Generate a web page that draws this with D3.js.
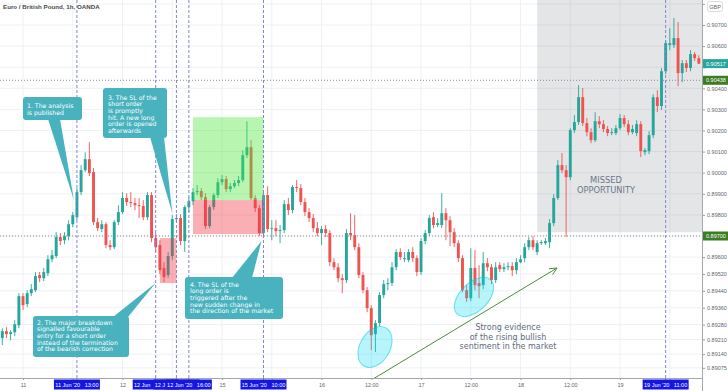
<!DOCTYPE html>
<html><head><meta charset="utf-8">
<script src="https://cdn.jsdelivr.net/npm/d3@7"></script>
<style>html,body{margin:0;padding:0;background:#fff;}svg{display:block;}</style>
</head><body><svg id="c" width="728" height="391"></svg>
<script>
// ---- DATA (EUR/GBP 1h, OANDA) ----
const opens=[
0.89216,0.89249,0.89235,0.89244,0.89277,0.89415,0.89377,0.89429,0.89443,0.89515,
0.89500,0.89524,0.89590,0.89605,0.89695,0.89680,0.89699,0.89756,0.89789,0.89908,
0.90012,0.90064,0.90003,0.89766,0.89733,0.89756,0.89657,0.89647,0.89766,0.89813,
0.89880,0.89861,0.89856,0.89846,0.89842,0.89789,0.89894,0.89690,0.89657,0.89548,
0.89515,0.89605,0.89780,0.89785,0.89676,0.89837,0.89865,0.89908,0.89913,0.89884,
0.89747,0.89837,0.89894,0.89955,0.89970,0.89922,0.89936,0.89951,0.89965,0.90083,
0.90121,0.89880,0.89832,0.89714,0.89894,0.89733,0.89737,0.89723,0.89728,0.89851,
0.89823,0.89932,0.89927,0.89861,0.89813,0.89785,0.89737,0.89714,0.89733,0.89714,
0.89576,0.89552,0.89500,0.89491,0.89714,0.89704,0.89647,0.89515,0.89443,0.89358,
0.89235,0.89287,0.89420,0.89472,0.89477,0.89552,0.89624,0.89590,0.89586,0.89624,
0.89595,0.89529,0.89676,0.89714,0.89789,0.89752,0.89752,0.89808,0.89775,0.89718,
0.89666,0.89595,0.89443,0.89405,0.89548,0.89477,0.89467,0.89571,0.89552,0.89491,
0.89562,0.89543,0.89552,0.89557,0.89538,0.89576,0.89595,0.89647,0.89680,0.89624,
0.89666,0.89666,0.89671,0.89761,0.89880,0.90036,0.90012,0.89979,0.90202,0.90240,
0.90358,0.90235,0.90192,0.90154,0.90244,0.90230,0.90207,0.90188,0.90188,0.90211,
0.90259,0.90230,0.90192,0.90188,0.90230,0.90097,0.90102,0.90178,0.90358,0.90316,
0.90481,0.90605,0.90605,0.90638,0.90472,0.90519,0.90496,0.90562,0.90543];
const highs=[
0.89263,0.89268,0.89254,0.89301,0.89429,0.89429,0.89443,0.89472,0.89529,0.89529,
0.89548,0.89609,0.89633,0.89718,0.89714,0.89718,0.89775,0.89813,0.89927,0.90036,
0.90097,0.90145,0.90022,0.89785,0.89775,0.89766,0.89680,0.89775,0.89846,0.89908,
0.89903,0.89908,0.89880,0.89880,0.89870,0.89908,0.89908,0.89714,0.89680,0.89576,
0.89624,0.89799,0.89804,0.89804,0.89846,0.89884,0.89927,0.89941,0.89927,0.89903,
0.89846,0.89903,0.89974,0.89989,0.89984,0.89951,0.89965,0.89984,0.90107,0.90244,
0.90154,0.89894,0.89846,0.89917,0.89936,0.89775,0.89775,0.89752,0.89870,0.89880,
0.89941,0.89965,0.89946,0.89880,0.89832,0.89804,0.89766,0.89747,0.89752,0.89728,
0.89595,0.89571,0.89519,0.89733,0.89808,0.89799,0.89666,0.89529,0.89458,0.89372,
0.89301,0.89434,0.89491,0.89500,0.89576,0.89638,0.89642,0.89624,0.89638,0.89647,
0.89609,0.89690,0.89728,0.89799,0.89813,0.89785,0.89903,0.89832,0.89794,0.89737,
0.89680,0.89609,0.89467,0.89642,0.89633,0.89562,0.89624,0.89595,0.89567,0.89576,
0.89576,0.89571,0.89576,0.89576,0.89595,0.89609,0.89666,0.89695,0.89699,0.89680,
0.89680,0.89690,0.89780,0.89898,0.90060,0.90093,0.90036,0.90211,0.90273,0.90415,
0.90401,0.90259,0.90211,0.90287,0.90268,0.90249,0.90221,0.90211,0.90226,0.90278,
0.90273,0.90249,0.90226,0.90249,0.90244,0.90117,0.90197,0.90372,0.90391,0.90496,
0.90628,0.90685,0.90733,0.90714,0.90534,0.90534,0.90581,0.90572,0.90557];
const lows=[
0.89183,0.89216,0.89206,0.89225,0.89263,0.89349,0.89363,0.89415,0.89434,0.89481,
0.89486,0.89510,0.89576,0.89595,0.89657,0.89661,0.89680,0.89742,0.89775,0.89894,
0.90003,0.89984,0.89752,0.89723,0.89718,0.89642,0.89633,0.89638,0.89752,0.89804,
0.89842,0.89837,0.89823,0.89785,0.89775,0.89775,0.89671,0.89624,0.89519,0.89481,
0.89500,0.89586,0.89766,0.89657,0.89624,0.89813,0.89846,0.89894,0.89870,0.89733,
0.89737,0.89823,0.89880,0.89941,0.89908,0.89908,0.89927,0.89936,0.89955,0.90069,
0.89870,0.89813,0.89699,0.89690,0.89718,0.89680,0.89699,0.89666,0.89714,0.89799,
0.89808,0.89908,0.89846,0.89794,0.89766,0.89718,0.89699,0.89657,0.89695,0.89557,
0.89538,0.89481,0.89429,0.89477,0.89680,0.89633,0.89500,0.89429,0.89339,0.89159,
0.89150,0.89273,0.89405,0.89443,0.89462,0.89538,0.89586,0.89576,0.89576,0.89576,
0.89510,0.89515,0.89661,0.89699,0.89737,0.89742,0.89737,0.89680,0.89652,0.89647,
0.89576,0.89434,0.89387,0.89391,0.89443,0.89405,0.89448,0.89533,0.89472,0.89477,
0.89529,0.89529,0.89538,0.89510,0.89519,0.89571,0.89576,0.89633,0.89633,0.89609,
0.89657,0.89657,0.89642,0.89747,0.89870,0.89998,0.89695,0.89965,0.90188,0.90226,
0.90221,0.90173,0.90140,0.90145,0.90211,0.90192,0.90173,0.90178,0.90178,0.90202,
0.90216,0.90178,0.90183,0.90173,0.90074,0.90083,0.90088,0.90164,0.90287,0.90297,
0.90467,0.90581,0.90591,0.90410,0.90429,0.90477,0.90481,0.90529,0.90515];
const closes=[
0.89249,0.89235,0.89244,0.89282,0.89415,0.89372,0.89429,0.89448,0.89510,0.89500,
0.89529,0.89590,0.89609,0.89695,0.89676,0.89699,0.89756,0.89799,0.89908,0.90012,
0.90064,0.89998,0.89766,0.89737,0.89756,0.89657,0.89647,0.89766,0.89813,0.89880,
0.89861,0.89856,0.89846,0.89842,0.89789,0.89894,0.89690,0.89647,0.89538,0.89505,
0.89605,0.89780,0.89785,0.89676,0.89837,0.89865,0.89908,0.89913,0.89884,0.89747,
0.89837,0.89894,0.89955,0.89970,0.89922,0.89936,0.89951,0.89965,0.90083,0.90121,
0.89880,0.89832,0.89714,0.89894,0.89733,0.89737,0.89723,0.89728,0.89851,0.89823,
0.89932,0.89927,0.89861,0.89813,0.89785,0.89737,0.89714,0.89733,0.89714,0.89576,
0.89552,0.89500,0.89491,0.89714,0.89704,0.89647,0.89515,0.89443,0.89358,0.89230,
0.89287,0.89420,0.89472,0.89477,0.89552,0.89624,0.89600,0.89595,0.89624,0.89595,
0.89529,0.89676,0.89714,0.89785,0.89752,0.89761,0.89808,0.89775,0.89718,0.89666,
0.89595,0.89443,0.89405,0.89548,0.89467,0.89462,0.89571,0.89552,0.89491,0.89552,
0.89543,0.89552,0.89557,0.89538,0.89576,0.89590,0.89647,0.89680,0.89647,0.89666,
0.89671,0.89676,0.89761,0.89880,0.90036,0.90012,0.89979,0.90202,0.90240,0.90358,
0.90235,0.90192,0.90154,0.90244,0.90230,0.90207,0.90188,0.90192,0.90211,0.90259,
0.90230,0.90192,0.90207,0.90230,0.90102,0.90107,0.90178,0.90358,0.90316,0.90481,
0.90614,0.90614,0.90638,0.90472,0.90519,0.90496,0.90562,0.90543,0.90517];

const firstBar = Date.UTC(2020,5,10,19);          // 10 Jun 2020 19:00
const weekendClose = Date.UTC(2020,5,12,21);      // Fri close
const weekendOpen  = Date.UTC(2020,5,14,21);      // Sun open
const priceTicks=[0.908,0.907,0.906,0.905,0.904,0.903,0.902,0.901,0.900,0.899,0.898,0.897,0.896,0.8952,0.8944,0.8936,0.8928,0.8921,0.8914,0.89075];
const eventTimes=[Date.UTC(2020,5,11,13),Date.UTC(2020,5,12,8),Date.UTC(2020,5,12,13),Date.UTC(2020,5,12,16),Date.UTC(2020,5,15,10),Date.UTC(2020,5,19,11)];
const lastPrice=0.90517, levelA=0.90438, levelB=0.89700;
const longTP=0.90263, longEntry=0.89870, longSL=0.89709;
const shortTop=0.89690, shortBottom=0.89477, missedBottom=0.89718;

// ---- SETUP ----
const HOUR=3600e3;
const times=opens.map((_,i)=>{let t=firstBar+i*HOUR; if(t>=weekendClose) t+=weekendOpen-weekendClose; return t;});
const idxOf=t=>times.indexOf(t);
const PR=702, PB=378;
const svg=d3.select("#c");
const x=d3.scaleLinear().domain([-0.555,168.77]).range([0,PR]);
const y=d3.scaleLinear().domain([0.89027,0.908185]).range([PB,0]);
const AX="Liberation Sans, Arial, sans-serif";
const CF="DejaVu Sans, Verdana, sans-serif";
const defs=svg.append("defs");
defs.append("clipPath").attr("id","plot").append("rect").attr("width",PR).attr("height",PB);

// grid
const xTickIdx=times.map((t,i)=>({t,i})).filter(d=>{const h=new Date(d.t).getUTCHours();return h===0||h===12;}).map(d=>d.i);
const grid=svg.append("g");
grid.selectAll("line.v").data(xTickIdx).join("line").attr("x1",d=>x(d)).attr("x2",d=>x(d)).attr("y1",0).attr("y2",PB).attr("stroke","#eef0f4").attr("stroke-width",1);
grid.selectAll("line.h").data(priceTicks).join("line").attr("x1",0).attr("x2",PR).attr("y1",d=>y(d)).attr("y2",d=>y(d)).attr("stroke","#eef0f4").attr("stroke-width",1);

// missed opportunity zone
svg.append("rect").attr("x",x(129)).attr("y",y(y.domain()[1])).attr("width",PR-x(129)).attr("height",y(missedBottom)-y(y.domain()[1])).attr("fill","rgba(120,123,134,0.2)");

// candles
const cg=svg.append("g").attr("clip-path","url(#plot)");
const bars=opens.map((o,i)=>({i,o,h:highs[i],l:lows[i],c:closes[i]}));
const col=d=>d.c>=d.o?"#26a69a":"#ef5350";
cg.selectAll("line.w").data(bars).join("line").attr("x1",d=>x(d.i)).attr("x2",d=>x(d.i)).attr("y1",d=>y(d.h)).attr("y2",d=>y(d.l)).attr("stroke",col).attr("stroke-width",0.9);
const bw=2.9;
cg.selectAll("rect.b").data(bars).join("rect").attr("x",d=>x(d.i)-bw/2).attr("y",d=>y(Math.max(d.o,d.c))).attr("width",bw).attr("height",d=>Math.max(0.9,y(Math.min(d.o,d.c))-y(Math.max(d.o,d.c)))).attr("fill",col);

// position boxes
svg.append("rect").attr("x",x(46)).attr("y",y(longTP)).attr("width",x(63)-x(46)).attr("height",y(longEntry)-y(longTP)).attr("fill","rgba(76,230,60,0.4)");
svg.append("rect").attr("x",x(46)).attr("y",y(longEntry)).attr("width",x(63)-x(46)).attr("height",y(longSL)-y(longEntry)).attr("fill","rgba(242,54,69,0.4)");
svg.append("rect").attr("x",x(38)).attr("y",y(shortTop)).attr("width",x(42)-x(38)).attr("height",y(shortBottom)-y(shortTop)).attr("fill","rgba(242,54,69,0.4)");

// horizontal dotted levels
[levelA,levelB].forEach(p=>svg.append("line").attr("x1",0).attr("x2",PR).attr("y1",y(p)).attr("y2",y(p)).attr("stroke","#8a8d96").attr("stroke-width",1).attr("stroke-dasharray","1,2"));

// event vertical lines
const evIdx=eventTimes.map(idxOf);
svg.selectAll("line.ev").data(evIdx).join("line").attr("x1",d=>x(d)).attr("x2",d=>x(d)).attr("y1",0).attr("y2",PB+1).attr("stroke","#7f82de").attr("stroke-width",1).attr("stroke-dasharray","3,2");

// ellipses
[[375,347,22,15,-60],[474,297,24,14,-45]].forEach(e=>{
  svg.append("ellipse").attr("cx",0).attr("cy",0).attr("rx",e[2]).attr("ry",e[3]).attr("transform",`translate(${e[0]},${e[1]}) rotate(${e[4]})`).attr("fill","rgba(0,220,240,0.28)").attr("stroke","rgba(0,200,230,0.55)").attr("stroke-width",1);
});

// green arrow
(function(){const x1=373,y1=379,x2=557,y2=268;const a=Math.atan2(y2-y1,x2-x1);const L=8,s=0.45;
 const g=svg.append("g").attr("stroke","#4d8c3d").attr("stroke-width",1).attr("fill","none");
 g.append("line").attr("x1",x1).attr("y1",y1).attr("x2",x2).attr("y2",y2);
 g.append("polyline").attr("points",`${x2-L*Math.cos(a-s)},${y2-L*Math.sin(a-s)} ${x2},${y2} ${x2-L*Math.cos(a+s)},${y2-L*Math.sin(a+s)}`);
})();

// text annotations
const t1=svg.append("text").attr("font-family",CF).attr("font-size",8).attr("fill","#5d6b80").attr("text-anchor","middle");
["Strong evidence","of the rising bullish","sentiment in the market"].forEach((s,k)=>t1.append("tspan").attr("x",508).attr("y",330+k*9.5).text(s));
const t2=svg.append("text").attr("font-family",CF).attr("font-size",8.3).attr("fill","#6a7688").attr("text-anchor","middle");
["MISSED","OPPORTUNITY"].forEach((s,k)=>t2.append("tspan").attr("x",606).attr("y",183+k*9.5).text(s));

// callouts
function callout(bx,by,bw2,bh,tail,lines,tx,ty,lh){
  const g=svg.append("g");
  g.append("polygon").attr("points",tail.map(p=>p.join(",")).join(" ")).attr("fill","#48b2be");
  g.append("rect").attr("x",bx).attr("y",by).attr("width",bw2).attr("height",bh).attr("rx",3).attr("fill","#48b2be");
  const t=g.append("text").attr("font-family",CF).attr("font-size",6.2).attr("fill","#fff");
  lines.forEach((s,k)=>t.append("tspan").attr("x",tx).attr("y",ty+k*lh).text(s));
}
callout(23,97,59,23,[[48,119],[60,119],[x(18)-3,200]],["1. The analysis","is published"],27,107.5,7);
callout(103,88,64,50,[[150,137],[164,137],[x(41),213]],["3. The SL of the","short order","is promptly","hit. A new long","order is opened","afterwards"],108,99.5,6.7);
callout(33,316,96,41,[[113,317],[128,317],[x(37),283]],["2. The major breakdown","signalled favourable","entry for a short order","instead of the termination","of the bearish correction"],37,324.5,6.7);
callout(185,277,98,42,[[232,278],[252,278],[x(63)-2,241]],["4. The SL of the","long order is","triggered after the","new sudden change in","the direction of the market"],190,286.5,6.7);

// title
svg.append("text").attr("x",3).attr("y",9).attr("font-family",AX).attr("font-size",6.2).attr("font-weight","bold").attr("fill","#4a4a4a").text("Euro / British Pound, 1h, OANDA");

// axes
svg.append("rect").attr("x",PR).attr("y",0).attr("width",728-PR).attr("height",391).attr("fill","#fff");
svg.append("rect").attr("x",0).attr("y",PB).attr("width",728).attr("height",391-PB).attr("fill","#fff");
const boxed=[lastPrice,levelA,levelB];
const ya=svg.append("g").attr("transform",`translate(${PR},0)`).call(d3.axisRight(y).tickValues(priceTicks).tickSize(3).tickPadding(2).tickFormat(d=>d.toFixed(5)));
ya.select(".domain").remove();
ya.selectAll("line").attr("stroke","#9a9da5");
ya.selectAll("text").attr("font-family",AX).attr("font-size",5.5).attr("fill","#666");
// labels hidden behind price boxes / currency box in the reference
ya.selectAll(".tick").filter(d=>boxed.some(b=>Math.abs(y(b)-y(d))<7)||y(d)<8).select("text").remove();
const evX=evIdx.map(i=>x(i));
const xa=svg.append("g").attr("transform",`translate(0,${PB})`).call(d3.axisBottom(x).tickValues(xTickIdx).tickSize(2).tickPadding(3).tickFormat(i=>{const d=new Date(times[i]);return d.getUTCHours()===0?String(d.getUTCDate()):"12:00";}));
xa.select(".domain").remove();
xa.selectAll("line").attr("stroke","#9a9da5");
xa.selectAll("text").attr("font-family",AX).attr("font-size",5.5).attr("fill","#666");
// tick labels hidden behind the highlighted event labels
xa.selectAll(".tick").filter(d=>evX.some(ex=>Math.abs(ex-x(d))<29)).select("text").remove();
svg.append("line").attr("x1",0).attr("x2",PR).attr("y1",PB+0.5).attr("y2",PB+0.5).attr("stroke","#a3a6ad");
svg.append("line").attr("x1",PR+0.5).attr("x2",PR+0.5).attr("y1",0).attr("y2",391).attr("stroke","#a3a6ad");

// event lines continue into axis + labels (later labels cover earlier ones: text truncated)
svg.selectAll("line.ev2").data(evIdx).join("line").attr("x1",d=>x(d)).attr("x2",d=>x(d)).attr("y1",PB).attr("y2",PB+2).attr("stroke","#7f82de");
const fmtD=d3.utcFormat("%-d %b '%y"), fmtH=d3.utcFormat("%H:%M");
const LW=46;
evIdx.forEach((i,k)=>{
  const cx=x(i), left=cx-LW/2;
  const nextLeft=k<evIdx.length-1?x(evIdx[k+1])-LW/2:Infinity;
  svg.append("rect").attr("x",left).attr("y",PB+1.5).attr("width",LW).attr("height",10).attr("fill","#1616e4");
  const full=fmtD(new Date(times[i]))+"   "+fmtH(new Date(times[i]));
  const t=svg.append("text").attr("y",PB+8.5).attr("font-family",AX).attr("font-size",5.5).attr("fill","#fff").style("white-space","pre").text(full);
  const fw=t.node().getComputedTextLength();
  const sx=left+(LW-fw)/2;
  t.attr("x",sx);
  let s=full;
  while(s.length>0 && sx+t.node().getComputedTextLength()>nextLeft-0.8){ s=s.slice(0,-1); t.text(s); }
  if(!s.trim().length) t.remove();
});

// price labels
[[lastPrice,"#26a69a"],[levelA,"#3a7d22"],[levelB,"#3a7d22"]].forEach(([p,c])=>{
  svg.append("rect").attr("x",PR+1).attr("y",y(p)-4.5).attr("width",26).attr("height",9).attr("fill",c);
  svg.append("text").attr("x",PR+4).attr("y",y(p)+2).attr("font-family",AX).attr("font-size",5.5).attr("fill","#fff").text(p.toFixed(5));
});
// currency box
svg.append("rect").attr("x",707.5).attr("y",1.5).attr("width",15).attr("height",10).attr("rx",2).attr("fill","#fff").attr("stroke","#d8dbe0");
svg.append("text").attr("x",715).attr("y",8.5).attr("text-anchor","middle").attr("font-family",AX).attr("font-size",5.5).attr("fill","#666").text("GBP");
</script></body></html>
